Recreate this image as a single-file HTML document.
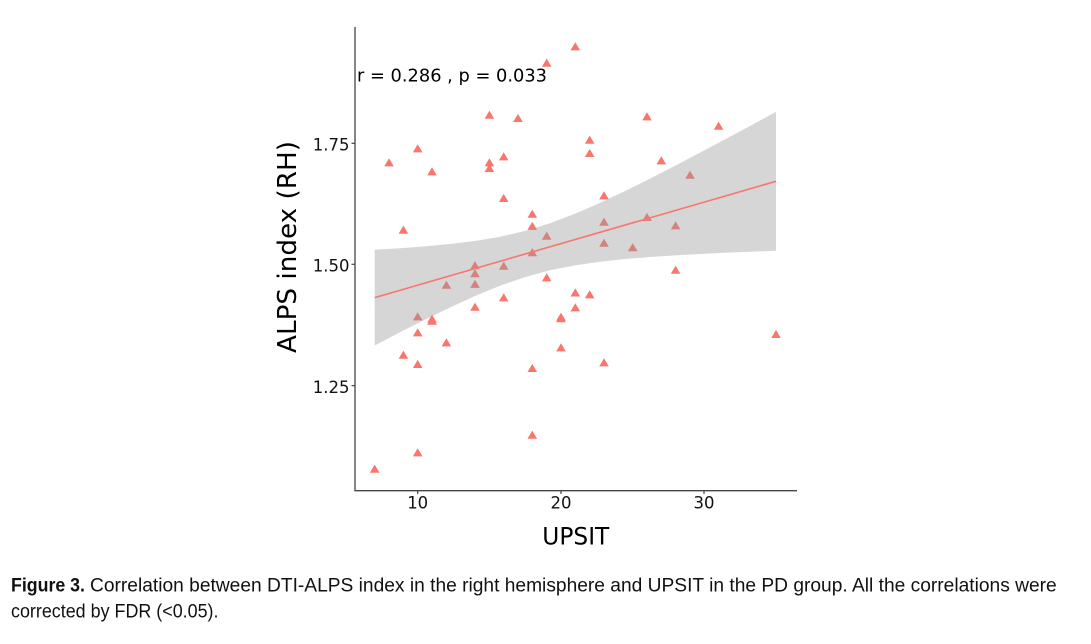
<!DOCTYPE html>
<html><head><meta charset="utf-8"><style>
html,body{margin:0;padding:0;background:#fff;}
svg{display:block;}
</style></head><body>
<svg width="1091" height="644" viewBox="0 0 1091 644" xmlns="http://www.w3.org/2000/svg">
<rect width="1091" height="644" fill="#fff"/>
<defs><polygon id="t" points="0,-4.4 4.8,3.7 -4.8,3.7" fill="#F8766D"/></defs>
<g>
<use href="#t" x="374.7" y="469"/>
<use href="#t" x="389.0" y="162.7"/>
<use href="#t" x="403.4" y="230"/>
<use href="#t" x="403.4" y="355"/>
<use href="#t" x="417.7" y="148.7"/>
<use href="#t" x="417.7" y="316.7"/>
<use href="#t" x="417.7" y="332.7"/>
<use href="#t" x="417.7" y="364.3"/>
<use href="#t" x="417.7" y="452.7"/>
<use href="#t" x="432.0" y="171.7"/>
<use href="#t" x="432.0" y="319"/>
<use href="#t" x="432.0" y="321"/>
<use href="#t" x="446.4" y="285"/>
<use href="#t" x="446.4" y="342.7"/>
<use href="#t" x="475.0" y="265.5"/>
<use href="#t" x="475.0" y="273.5"/>
<use href="#t" x="475.0" y="284.2"/>
<use href="#t" x="475.0" y="307"/>
<use href="#t" x="489.4" y="115"/>
<use href="#t" x="489.4" y="162.7"/>
<use href="#t" x="489.4" y="168.3"/>
<use href="#t" x="503.7" y="156.7"/>
<use href="#t" x="503.7" y="198.3"/>
<use href="#t" x="503.7" y="266"/>
<use href="#t" x="503.7" y="297.7"/>
<use href="#t" x="518.0" y="118.3"/>
<use href="#t" x="532.3" y="214"/>
<use href="#t" x="532.3" y="226.2"/>
<use href="#t" x="532.3" y="252.5"/>
<use href="#t" x="532.3" y="368.3"/>
<use href="#t" x="532.3" y="435"/>
<use href="#t" x="546.7" y="63"/>
<use href="#t" x="546.7" y="236"/>
<use href="#t" x="546.7" y="277.7"/>
<use href="#t" x="561.0" y="317"/>
<use href="#t" x="561.0" y="318.5"/>
<use href="#t" x="561.0" y="347.7"/>
<use href="#t" x="575.3" y="46.7"/>
<use href="#t" x="575.3" y="292.8"/>
<use href="#t" x="575.3" y="307.7"/>
<use href="#t" x="589.7" y="140"/>
<use href="#t" x="589.7" y="153.3"/>
<use href="#t" x="589.7" y="294.7"/>
<use href="#t" x="604.0" y="195.7"/>
<use href="#t" x="604.0" y="222"/>
<use href="#t" x="604.0" y="243"/>
<use href="#t" x="604.0" y="362.7"/>
<use href="#t" x="632.7" y="247.5"/>
<use href="#t" x="647.0" y="116.7"/>
<use href="#t" x="647.0" y="217.3"/>
<use href="#t" x="661.3" y="160.7"/>
<use href="#t" x="675.6" y="225.7"/>
<use href="#t" x="675.6" y="270"/>
<use href="#t" x="690.0" y="175"/>
<use href="#t" x="718.6" y="126"/>
<use href="#t" x="776.0" y="334.3"/>
</g>
<polygon fill="#999999" fill-opacity="0.4" points="374.7,249.7 400,248.2 425,246.4 450,244.05 475,240.99 500,236.77 525,230.96 550,223.25 575,213.76 600,202.87 625,191.05 650,178.6 675,165.77 700,152.66 725,139.37 750,125.94 776,111.9 776,250.7 750,251.7 725,252.77 700,253.96 675,255.35 650,257.0 625,259.05 600,261.71 575,265.32 550,270.31 525,277.1 500,285.77 475,296.05 450,307.47 425,319.6 400,332.3 374.7,345.5"/>
<line x1="374.7" y1="297.6" x2="776" y2="181.3" stroke="#F8766D" stroke-width="1.6"/>
<line x1="355" y1="27" x2="355" y2="491" stroke="#444" stroke-width="1.3"/>
<line x1="354.4" y1="490.7" x2="797" y2="490.7" stroke="#444" stroke-width="1.3"/>
<g stroke="#444" stroke-width="1.2">
<line x1="351.5" y1="143.3" x2="355" y2="143.3"/>
<line x1="351.5" y1="264.3" x2="355" y2="264.3"/>
<line x1="351.5" y1="385.7" x2="355" y2="385.7"/>
<line x1="417.7" y1="490.7" x2="417.7" y2="494"/>
<line x1="561" y1="490.7" x2="561" y2="494"/>
<line x1="704" y1="490.7" x2="704" y2="494"/>
</g>
<g font-family="'DejaVu Sans', 'Liberation Sans', sans-serif" font-size="16.5" fill="#111">
<text x="349.5" y="150.5" text-anchor="end">1.75</text>
<text x="349.5" y="271.5" text-anchor="end">1.50</text>
<text x="349.5" y="393" text-anchor="end">1.25</text>
<text x="417.7" y="508.3" text-anchor="middle">10</text>
<text x="561" y="508.3" text-anchor="middle">20</text>
<text x="704" y="508.3" text-anchor="middle">30</text>
</g>
<text x="357" y="81.5" font-family="'DejaVu Sans', 'Liberation Sans', sans-serif" font-size="17.8" fill="#000" textLength="190" lengthAdjust="spacingAndGlyphs">r = 0.286 , p = 0.033</text>
<text x="575.8" y="544.5" text-anchor="middle" font-family="'DejaVu Sans', 'Liberation Sans', sans-serif" font-size="24" fill="#000" textLength="67" lengthAdjust="spacingAndGlyphs">UPSIT</text>
<text transform="translate(296,247) rotate(-90)" x="0" y="0" text-anchor="middle" font-family="'DejaVu Sans', 'Liberation Sans', sans-serif" font-size="26" fill="#000" textLength="212" lengthAdjust="spacingAndGlyphs">ALPS index (RH)</text>
<g font-family="'Liberation Sans', sans-serif" font-size="19" fill="#111">
<text x="11" y="591.7" font-weight="bold" textLength="74" lengthAdjust="spacingAndGlyphs">Figure 3.</text>
<text x="90" y="591.7" textLength="966.7" lengthAdjust="spacingAndGlyphs">Correlation between DTI-ALPS index in the right hemisphere and UPSIT in the PD group. All the correlations were</text>
<text x="11" y="617.3" textLength="207.5" lengthAdjust="spacingAndGlyphs">corrected by FDR (&lt;0.05).</text>
</g>
</svg>
</body></html>
